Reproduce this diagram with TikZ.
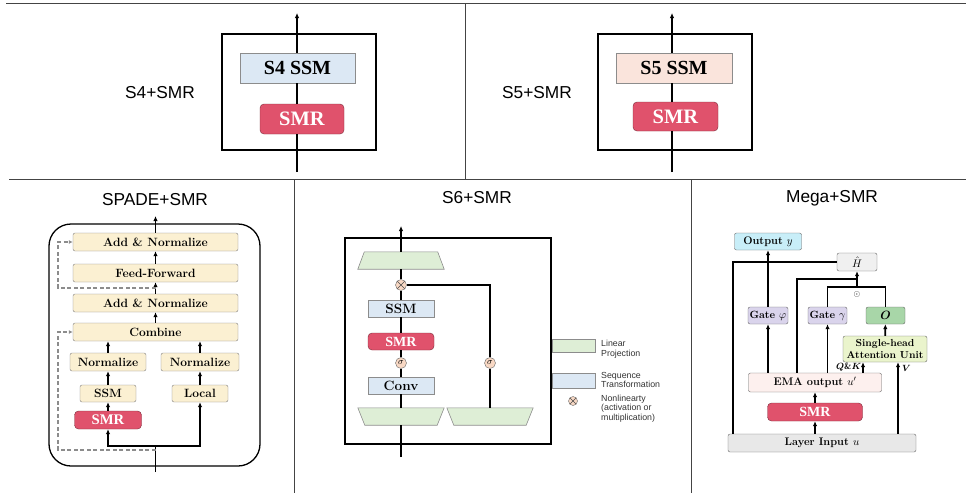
\documentclass[tikz,border=0pt]{standalone}
\usepackage{fontspec}
\usepackage{amsmath}
\usetikzlibrary{arrows.meta}
\newfontfamily\arialfont{Liberation Sans}
\newfontfamily\timesfont{Liberation Serif}
\definecolor{smrred}{RGB}{224,82,108}
\definecolor{ssmblue}{RGB}{220,232,244}
\definecolor{ssmpink}{RGB}{250,228,220}
\definecolor{cream}{RGB}{251,240,210}
\definecolor{projgreen}{RGB}{222,238,214}
\definecolor{peach}{RGB}{248,216,196}
\definecolor{outcyan}{RGB}{200,238,248}
\definecolor{hgray}{RGB}{240,240,240}
\definecolor{gatepurple}{RGB}{218,212,236}
\definecolor{ogreen}{RGB}{168,214,168}
\definecolor{attgreen}{RGB}{234,244,204}
\definecolor{emapink}{RGB}{253,240,238}
\definecolor{inputgray}{RGB}{232,232,232}
\definecolor{rulegray}{RGB}{68,68,68}
\tikzset{
  paneltitle/.style={font=\arialfont\fontsize{17.3}{20}\selectfont},
  arr/.style={-{Latex[length=5pt,width=4.5pt]}},
  wire/.style={line width=1.8pt},
  residual/.style={draw=black!45, line width=1.5pt, dash pattern=on 4pt off 2.5pt, -{Latex[length=4pt,width=4pt]}},
  smrbox/.style={draw=smrred!55!black, fill=smrred, rounded corners=4pt, text=white, inner sep=0pt, font=\timesfont\bfseries\fontsize{#1}{#1}\selectfont},
  ssmbox/.style={draw=black!45, fill=#1, inner sep=0pt, minimum height=30pt, font=\timesfont\bfseries\fontsize{20}{20}\selectfont},
  spadebox/.style={draw=black!50, fill=cream, rounded corners=2pt, inner sep=0pt, minimum height=18pt, font=\bfseries\fontsize{12}{12}\selectfont},
  seqbox/.style={draw=black!45, fill=ssmblue, minimum width=66pt, minimum height=17pt, inner sep=0pt, font=\bfseries\fontsize{13.5}{14}\selectfont},
  projslot/.style={minimum width=86pt, minimum height=17pt, inner sep=0pt},
  projdraw/.style={draw=black!45, fill=projgreen, line width=0.6pt},
  mulnode/.style={circle, draw=black!60, fill=peach, minimum size=11pt, inner sep=0pt,
    path picture={\draw[black!70, line width=0.6pt] (path picture bounding box.north west) -- (path picture bounding box.south east)
      (path picture bounding box.north east) -- (path picture bounding box.south west);}},
  signode/.style={circle, draw=black!60, fill=peach, minimum size=11pt, inner sep=0pt, font=\fontsize{9}{9}\selectfont},
  legtext/.style={font=\arialfont\fontsize{8.8}{9.6}\selectfont, text=black!80, align=left, anchor=west, inner sep=0pt},
  megabox/.style={draw=black!60, rounded corners=2pt, inner sep=0pt, font=\bfseries\fontsize{11}{12}\selectfont},
}
\begin{document}
\begin{tikzpicture}[x=1pt,y=-1pt]
\useasboundingbox (0,0) rectangle (966,493);
\draw[rulegray, line width=1pt] (6,3) -- (966,3) (9,179) -- (966,179) (465,3) -- (465,179)
  (294,179) -- (294,493) (691,179) -- (691,493);

% S4+SMR
\node[paneltitle] (t4) at (160,93) {S4+SMR};
\draw[line width=1.8pt] (222,34) rectangle (376,150);
\node[ssmbox=ssmblue, minimum width=115pt] (ssm4) at (297.5,68) {S4 SSM};
\node[smrbox=20.5, minimum width=84pt, minimum height=30pt] (smr4) at (302,119) {SMR};
\coordinate (in4) at (297,172);
\coordinate (out4) at (297,13);
\draw[wire] (in4) -- (in4 |- smr4.south);
\draw[wire] (smr4.north -| in4) -- (in4 |- ssm4.south);
\draw[wire,arr] (in4 |- ssm4.north) -- (out4);

% S5+SMR
\node[paneltitle] (t5) at (537,93) {S5+SMR};
\draw[line width=1.8pt] (598,34) rectangle (752,150);
\node[ssmbox=ssmpink, minimum width=116pt] (ssm5) at (674,68) {S5 SSM};
\node[smrbox=20.5, minimum width=85pt, minimum height=29pt] (smr5) at (675.5,116.5) {SMR};
\coordinate (in5) at (672,172);
\coordinate (out5) at (672,13);
\draw[wire] (in5) -- (in5 |- smr5.south);
\draw[wire] (smr5.north -| in5) -- (in5 |- ssm5.south);
\draw[wire,arr] (in5 |- ssm5.north) -- (out5);

% SPADE+SMR
\node[paneltitle] (tspade) at (155,200) {SPADE+SMR};
\draw[line width=1.3pt, rounded corners=22pt] (49,224) rectangle (260,466);
\node[spadebox, minimum width=165pt] (addtop) at (155.5,242) {Add \& Normalize};
\node[spadebox, minimum width=165pt] (ff) at (155.5,273) {Feed-Forward};
\node[spadebox, minimum width=165pt] (addlow) at (155.5,303) {Add \& Normalize};
\node[spadebox, minimum width=165pt] (comb) at (155.5,332) {Combine};
\node[spadebox, minimum width=76pt] (normL) at (108,362) {Normalize};
\node[spadebox, minimum width=78pt] (normR) at (200,362) {Normalize};
\node[spadebox, minimum width=56pt, minimum height=17pt] (ssmS) at (108,393.5) {SSM};
\node[spadebox, minimum width=56pt, minimum height=17pt] (local) at (200,393.5) {Local};
\node[smrbox=14.7, minimum width=67pt, minimum height=18pt] (smrS) at (108,420) {SMR};
\coordinate (inS) at (155.5,472);
\coordinate (forkS) at (155.5,446);
\coordinate (outS) at (155.5,216);
\coordinate (res1) at (155.5,450);
\coordinate (res2) at (155.5,288);
\draw[wire] (inS) -- (forkS);
\draw[wire,arr] (forkS) -| (smrS);
\draw[wire,arr] (forkS) -| (local);
\draw[wire,arr] (smrS) -- (ssmS);
\draw[wire,arr] (ssmS) -- (normL);
\draw[wire,arr] (normL) -- (normL |- comb.south);
\draw[wire,arr] (local) -- (normR);
\draw[wire,arr] (normR) -- (normR |- comb.south);
\draw[wire,arr] (comb) -- (addlow);
\draw[wire,arr] (addlow) -- (ff);
\draw[wire,arr] (ff) -- (addtop);
\draw[wire,arr] (addtop) -- (outS);
\draw[residual] (res1) -| ([xshift=-15pt]comb.west) -- (comb.west);
\draw[residual] (res2) -| ([xshift=-15pt]addtop.west) -- (addtop.west);

% S6+SMR
\node[paneltitle] (t6) at (477,198) {S6+SMR};
\draw[line width=1.8pt] (345,238) rectangle (551,444);
\node[projslot] (top6) at (401,260.5) {};
\draw[projdraw] ([xshift=6.5pt]top6.north west) -- ([xshift=-6.5pt]top6.north east) -- (top6.south east) -- (top6.south west) -- cycle;
\node[mulnode] (mul6) at (401,285) {};
\node[seqbox] (ssm6) at (401,308.5) {SSM};
\node[smrbox=14, minimum width=66pt, minimum height=17pt] (smr6) at (401,341.5) {SMR};
\node[signode] (sigL) at (401,363) {$\sigma$};
\node[seqbox] (conv6) at (401,385.5) {Conv};
\node[projslot] (bl6) at (401,416.5) {};
\draw[projdraw] (bl6.north west) -- (bl6.north east) -- ([xshift=-7pt]bl6.south east) -- ([xshift=7pt]bl6.south west) -- cycle;
\node[projslot] (br6) at (490,416.5) {};
\draw[projdraw] (br6.north west) -- (br6.north east) -- ([xshift=-7pt]br6.south east) -- ([xshift=7pt]br6.south west) -- cycle;
\node[signode] (sigR) at (490,363) {$\sigma$};
\coordinate (in6) at (401,457);
\coordinate (out6) at (401,226);
\draw[wire] (in6) -- (bl6);
\draw[wire] (bl6) -- (conv6);
\draw[wire] (conv6) -- (sigL);
\draw[wire] (sigL) -- (smr6);
\draw[wire] (smr6) -- (ssm6);
\draw[wire] (ssm6) -- (mul6);
\draw[wire] (mul6) -- (top6);
\draw[wire,arr] (top6) -- (out6);
\draw[wire] (br6) -- (sigR);
\draw[wire] (sigR) |- (mul6);

% legend
\node[draw=black!45, fill=projgreen, minimum width=43pt, minimum height=13pt, inner sep=0pt] (lgproj) at (573.5,345.5) {};
\node[legtext] (ltproj) at (601,349.5) {Linear\\Projection};
\node[draw=black!45, fill=ssmblue, minimum width=43pt, minimum height=15pt, inner sep=0pt] (lgseq) at (573.5,380.5) {};
\node[legtext] (ltseq) at (601,380) {Sequence\\Transformation};
\node[mulnode, minimum size=9pt] (lgmul) at (573,401) {};
\node[legtext] (ltmul) at (601,408.5) {Nonlinearty\\(activation or\\multiplication)};

% Mega+SMR
\node[paneltitle] (tmega) at (832,198) {Mega+SMR};
\node[megabox, fill=outcyan, minimum width=67pt, minimum height=17pt] (outy) at (768,241.5) {Output $y$};
\node[megabox, fill=hgray, minimum width=40pt, minimum height=18pt] (hhat) at (857,262) {$\hat{H}$};
\node[megabox, fill=gatepurple, minimum width=40pt, minimum height=17pt, font=\bfseries\fontsize{10.5}{11}\selectfont] (gphi) at (768,315.5) {Gate $\varphi$};
\node[megabox, fill=gatepurple, minimum width=39pt, minimum height=17pt, font=\bfseries\fontsize{10.5}{11}\selectfont] (ggam) at (827.5,315.5) {Gate $\gamma$};
\node[megabox, fill=ogreen, minimum width=39pt, minimum height=17pt, font=\fontsize{13}{13}\selectfont] (obox) at (885.5,315.5) {$\boldsymbol{O}$};
\node[megabox, fill=attgreen, minimum width=84pt, minimum height=26pt, align=center, font=\bfseries\fontsize{10.2}{11.5}\selectfont] (attn) at (885,349) {Single-head\\Attention Unit};
\node[megabox, fill=emapink, minimum width=133pt, minimum height=19pt] (ema) at (815,382.5) {EMA output $u'$};
\node[smrbox=14, minimum width=95pt, minimum height=18pt] (msmr) at (815,412) {SMR};
\node[megabox, fill=inputgray, minimum width=188pt, minimum height=18pt] (minput) at (822,443) {Layer Input $u$};
\node[font=\fontsize{8}{8}\selectfont, inner sep=0pt] (odot) at (857,294) {$\odot$};
\coordinate (lcol) at (733,0);
\coordinate (hcol) at (797,0);
\coordinate (qkcol) at (863,0);
\coordinate (vcol) at (898,0);
\coordinate (hjoin) at (857,279);
\coordinate (hjoin2) at (857,287);
\draw[wire,arr] (minput.north -| msmr) -- (msmr);
\draw[wire,arr] (msmr) -- (ema);
\draw[wire] (minput.north -| lcol) |- (hhat.west);
\draw[wire,arr] (minput.north -| vcol) -- (attn.south -| vcol) node[pos=.92, right, font=\fontsize{9.5}{10}\selectfont] (vlab) {$\boldsymbol{V}$};
\draw[wire,arr] (ema.north -| gphi) -- (gphi);
\draw[wire,arr] (gphi) -- (outy);
\draw[wire] (ema.north -| hcol) |- (hjoin);
\draw[wire,arr] (ema.north -| ggam) -- (ggam);
\draw[wire] (ggam) |- (hjoin2) -| (obox);
\draw[wire,arr] (hjoin2) -- (hhat);
\draw[wire,arr] (ema.north -| qkcol) -- (attn.south -| qkcol) node[midway, left, inner sep=1pt, font=\fontsize{9.5}{10}\selectfont] (qklab) {$\boldsymbol{Q\&K}$};
\draw[wire,arr] (attn) -- (obox);
\end{tikzpicture}
\end{document}
